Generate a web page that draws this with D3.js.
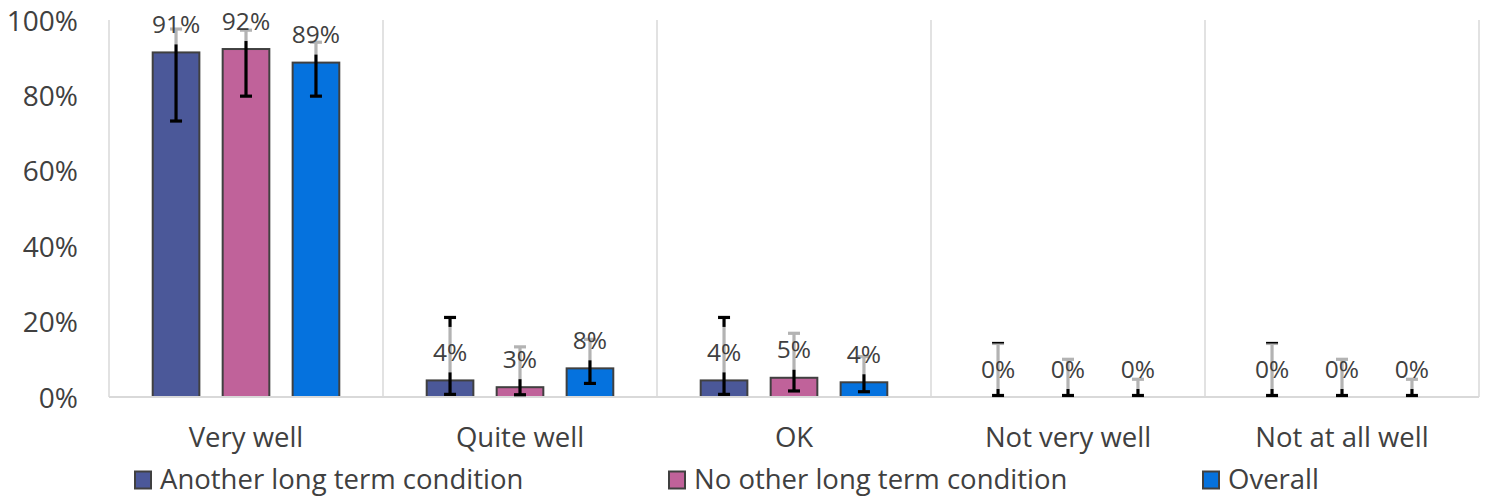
<!DOCTYPE html>
<html>
<head>
<meta charset="utf-8">
<script src="https://cdn.jsdelivr.net/npm/d3@7"></script>
<style>
  html, body { margin: 0; padding: 0; background: #fff; }
  svg { display: block; }
  text { font-family: "Open Sans", "Noto Sans", sans-serif; fill: #404040; }
</style>
</head>
<body>
<svg id="chart" width="1488" height="500"></svg>
<script>
// ---------- data ----------
const categories = ["Very well", "Quite well", "OK", "Not very well", "Not at all well"];
const seriesNames = ["Another long term condition", "No other long term condition", "Overall"];
const seriesColors = ["#4B5899", "#C0629A", "#0572DE"];

const anotherValues = [91.4, 4.4, 4.4, 0, 0];
const noOtherValues = [92.3, 2.6, 5.1, 0, 0];
const overallValues = [88.7, 7.6, 3.9, 0, 0];

const anotherLow  = [73.2, 0.7, 0.7, 0.4, 0.4];
const anotherHigh = [97.6, 21.1, 21.1, 14.2, 14.2];
const noOtherLow  = [79.8, 0.6, 1.6, 0.4, 0.4];
const noOtherHigh = [97.3, 13.3, 16.9, 10.0, 10.0];
const overallLow  = [79.8, 3.6, 1.4, 0.4, 0.4];
const overallHigh = [94.1, 15.3, 10.7, 4.7, 4.7];

const yTicks = [0, 20, 40, 60, 80, 100];

// ---------- build table ----------
const seriesValues = [anotherValues, noOtherValues, overallValues];
const seriesLow = [anotherLow, noOtherLow, overallLow];
const seriesHigh = [anotherHigh, noOtherHigh, overallHigh];
const rows = [];
categories.forEach((c, ci) => {
  seriesNames.forEach((s, si) => {
    rows.push({
      cat: c, series: s, si,
      value: seriesValues[si][ci],
      low: seriesLow[si][ci],
      high: seriesHigh[si][ci]
    });
  });
});

// ---------- layout ----------
const svg = d3.select("#chart");
const plotLeft = 109, plotRight = 1479, plotTop = 20, plotBottom = 397;

const y = d3.scaleLinear().domain([0, 100]).range([plotBottom, plotTop]);
const x0 = d3.scaleBand().domain(categories).range([plotLeft, plotRight])
  .paddingInner(0.319).paddingOuter(0.1595);
const x1 = d3.scaleBand().domain(seriesNames).range([0, x0.bandwidth()])
  .paddingInner(0.333);
const color = d3.scaleOrdinal().domain(seriesNames).range(seriesColors);

// vertical gridlines (category separators)
const sepX = categories.map((c, i) => plotLeft + i * x0.step()).concat([plotRight]);
svg.append("g").selectAll("line").data(sepX).join("line")
  .attr("x1", d => d).attr("x2", d => d)
  .attr("y1", plotTop).attr("y2", plotBottom)
  .attr("stroke", "#d9d9d9").attr("stroke-width", 1.5);

// y axis labels
const yAxis = d3.axisLeft(y).tickValues(yTicks).tickFormat(d => d + "%").tickSize(0).tickPadding(0);
const yg = svg.append("g").attr("transform", `translate(78,0)`).call(yAxis);
yg.select(".domain").remove();
yg.attr("font-family", null).attr("font-size", null);
yg.selectAll("text").attr("font-size", 28)
  .attr("fill", "#404040").attr("dy", "0.36em").attr("text-anchor", "end");

// bars
const barG = svg.append("g");
barG.selectAll("rect").data(rows.filter(d => d.value > 0)).join("rect")
  .attr("x", d => x0(d.cat) + x1(d.series))
  .attr("y", d => y(d.value))
  .attr("width", x1.bandwidth())
  .attr("height", d => y(0) - y(d.value))
  .attr("fill", d => color(d.series))
  .attr("stroke", "#404040").attr("stroke-width", 2);

// baseline
svg.append("line").attr("x1", plotLeft).attr("x2", plotRight)
  .attr("y1", y(0)).attr("y2", y(0))
  .attr("stroke", "#d9d9d9").attr("stroke-width", 2);

// error bars
const capW = 12;
const errG = svg.append("g").attr("stroke", "#000").attr("stroke-width", 3.2);
rows.forEach(d => {
  const cx = x0(d.cat) + x1(d.series) + x1.bandwidth() / 2;
  errG.append("line").attr("x1", cx).attr("x2", cx).attr("y1", y(d.low)).attr("y2", y(d.high));
  errG.append("line").attr("x1", cx - capW / 2).attr("x2", cx + capW / 2).attr("y1", y(d.low)).attr("y2", y(d.low));
  errG.append("line").attr("x1", cx - capW / 2).attr("x2", cx + capW / 2).attr("y1", y(d.high)).attr("y2", y(d.high));
});

// data labels with semi-transparent background
const lblG = svg.append("g");
rows.forEach(d => {
  const cx = x0(d.cat) + x1(d.series) + x1.bandwidth() / 2;
  const base = y(d.value) - 19.5;
  const g = lblG.append("g");
  const t = g.append("text").attr("x", cx).attr("y", base)
    .attr("text-anchor", "middle").attr("font-size", 24.5)
    .text(Math.round(d.value) + "%");
  const w = t.node().getComputedTextLength();
  g.insert("rect", "text")
    .attr("x", cx - w / 2 - 6).attr("y", base - 34)
    .attr("width", w + 12).attr("height", 45.5)
    .attr("fill", "#fff").attr("fill-opacity", 0.7);
});

// category labels
svg.append("g").selectAll("text").data(categories).join("text")
  .attr("x", d => x0(d) + x0.bandwidth() / 2)
  .attr("y", 446.5)
  .attr("text-anchor", "middle").attr("font-size", 27.5)
  .text(d => d);

// legend
const lx = d3.scaleBand().domain(seriesNames).range([134, 134 + 3 * 534]);
const leg = svg.append("g").selectAll("g").data(seriesNames).join("g")
  .attr("transform", d => `translate(${lx(d)},0)`);
leg.append("rect").attr("x", 1).attr("y", 471.5).attr("width", 16).attr("height", 17)
  .attr("fill", d => color(d)).attr("stroke", "#404040").attr("stroke-width", 2);
leg.append("text").attr("x", 26).attr("y", 489).attr("font-size", 27.5).text(d => d);
</script>
</body>
</html>
